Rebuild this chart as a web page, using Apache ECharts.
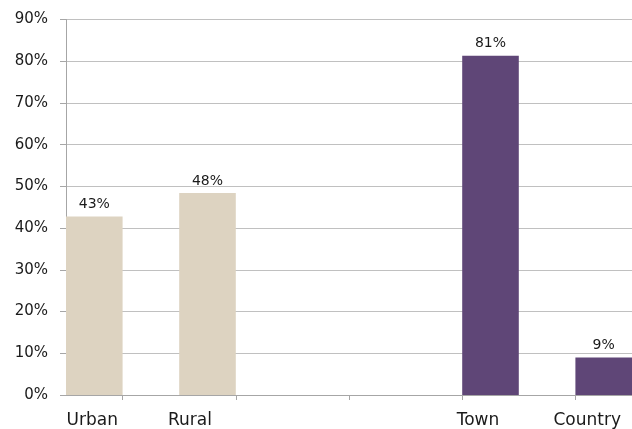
<!DOCTYPE html>
<html>
<head>
<meta charset="utf-8">
<script src="https://cdn.jsdelivr.net/npm/echarts@6/dist/echarts.min.js"></script>
<style>
html,body{margin:0;padding:0;background:#fff;}
#chart{width:632px;height:429px;}
</style>
</head>
<body>
<div id="chart"></div>
<script>
// Half-width slots: each named group occupies one slot, blank slots are gaps
var categories = ['Urban', '', 'Rural', '', '', '', '', 'Town', '', 'Country'];
var shares = [42.8, null, 48.4, null, null, null, null, 81.3, null, 9.0];
var groupOf = ['a', null, 'a', null, null, null, null, 'b', null, 'b'];
var yTicks = [0, 10, 20, 30, 40, 50, 60, 70, 80, 90];

var colors = { a: '#DDD3C1', b: '#5F4677' };
var font = 'DejaVu Sans';
var labelShift = { 'Urban': 'u', 'Rural': 'r', 'Town': 't', 'Country': 'c' };

var chart = echarts.init(document.getElementById('chart'), null, { renderer: 'canvas' });

var barData = shares.map(function (v, i) {
  return v == null ? null : { value: v, itemStyle: { color: colors[groupOf[i]] } };
});

chart.setOption({
  animation: false,
  backgroundColor: '#fff',
  grid: { left: 66, right: 0, top: 19.5, bottom: 31.5, containLabel: false },
  xAxis: {
    type: 'category',
    data: categories,
    boundaryGap: true,
    axisLine: { show: true, lineStyle: { color: '#A6A6A6', width: 1 } },
    axisTick: {
      show: true, length: 5, lineStyle: { color: '#A6A6A6' },
      interval: function (idx) { return idx % 2 === 1; }
    },
    axisLabel: {
      interval: 0, margin: 17, color: '#1a1a1a', fontFamily: font, fontSize: 17,
      formatter: function (v) { return v ? '{' + labelShift[v] + '|' + v + '}' : ''; },
      rich: {
        u: { fontFamily: font, fontSize: 17, color: '#1a1a1a', padding: [0, 4, 0, 0] },
        r: { fontFamily: font, fontSize: 17, color: '#1a1a1a', padding: [0, 35, 0, 0] },
        t: { fontFamily: font, fontSize: 17, color: '#1a1a1a', padding: [0, 25, 0, 0] },
        c: { fontFamily: font, fontSize: 17, color: '#1a1a1a', padding: [0, 33, 0, 0] }
      }
    },
    splitLine: { show: false }
  },
  yAxis: {
    type: 'value',
    min: yTicks[0],
    max: yTicks[yTicks.length - 1],
    interval: yTicks[1] - yTicks[0],
    axisLine: { show: true, lineStyle: { color: '#A6A6A6', width: 1 } },
    axisTick: { show: true, length: 6, lineStyle: { color: '#A6A6A6' } },
    axisLabel: {
      margin: 18, color: '#1a1a1a', fontFamily: font, fontSize: 15,
      formatter: function (v) { return v + '%'; }
    },
    splitLine: { show: true, lineStyle: { color: '#C0C0C0', width: 1 } }
  },
  series: [{
    type: 'bar',
    data: barData,
    barCategoryGap: '0%',
    label: {
      show: true, position: 'top', distance: 5,
      fontFamily: font, fontSize: 14, color: '#1a1a1a',
      formatter: function (p) { return Math.round(p.value) + '%'; }
    }
  }]
});
</script>
</body>
</html>
